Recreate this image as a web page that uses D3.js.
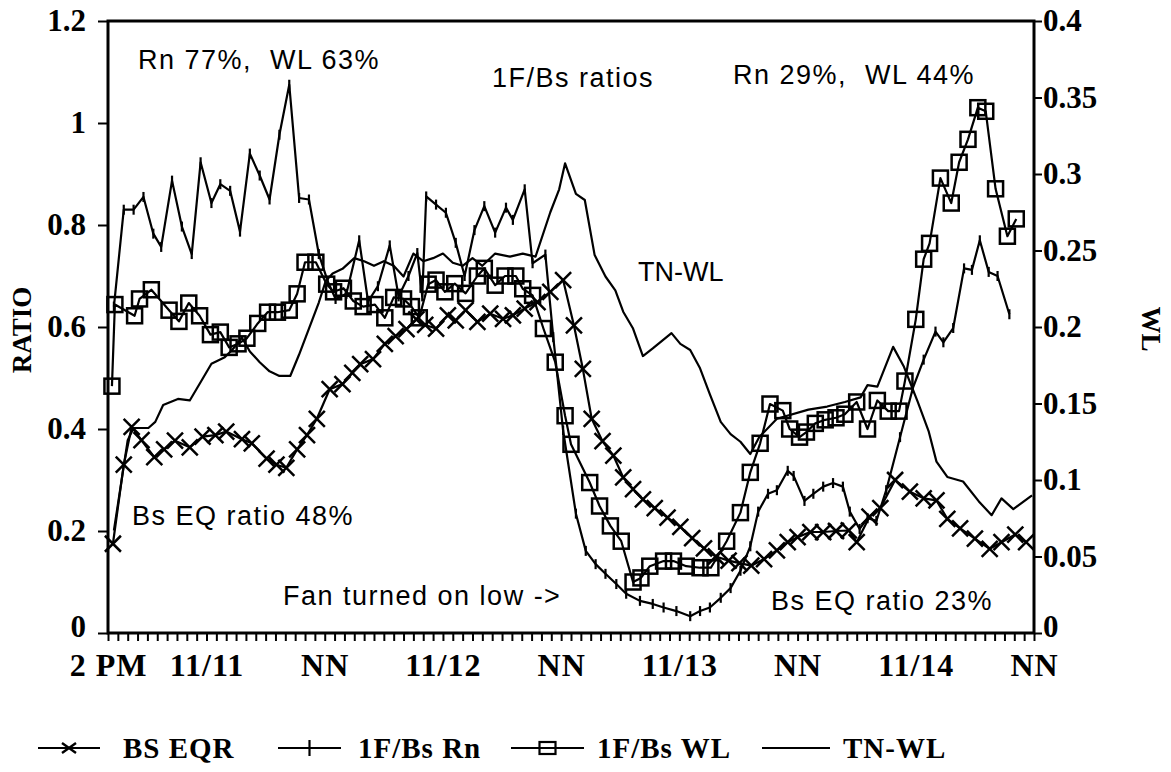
<!DOCTYPE html>
<html>
<head>
<meta charset="utf-8">
<script src="https://cdn.jsdelivr.net/npm/d3@7"></script>
<style>
  body { margin: 0; background: #fff; }
  svg { display: block; }
</style>
</head>
<body>
<div id="chart"></div>
<script>
// time is in hours after 2 PM 11/10
const xLabels = ["2 PM", "11/11", "NN", "11/12", "NN", "11/13", "NN", "11/14", "NN"];
const xLabelHours = [0, 10, 22, 34, 46, 58, 70, 82, 94];
const ratioTicks = [0, 0.2, 0.4, 0.6, 0.8, 1, 1.2];
const wlTicks = [0, 0.05, 0.1, 0.15, 0.2, 0.25, 0.3, 0.35, 0.4];

// BS EQR (ratio, left axis)
const eqrHours = [0.5,1.6,2.4,3.4,4.7,5.7,6.8,8.3,9.6,10.9,12.0,13.6,14.6,16.1,17.1,18.1,19.2,20.2,21.2,22.5,
  23.8,24.8,25.6,26.9,28.1,29.2,30.3,31.3,32.2,33.3,34.5,35.3,36.3,37.5,38.8,40.1,41.1,42.3,43.6,44.9,
  46.2,47.3,48.2,49.1,50.2,51.3,52.3,53.3,54.3,55.5,56.8,58.1,59.3,60.5,61.7,63.0,64.1,65.3,66.6,67.9,
  69.0,70.0,71.3,72.6,73.9,75.2,76.0,77.3,78.4,79.9,81.4,82.8,84.1,85.2,86.5,88.0,89.5,90.7,92.1,93.2];
const eqrValues = [0.175,0.33,0.404,0.378,0.345,0.36,0.377,0.364,0.385,0.388,0.395,0.38,0.372,0.342,0.33,0.324,0.36,0.388,0.42,0.478,
  0.488,0.51,0.527,0.537,0.567,0.582,0.596,0.615,0.604,0.597,0.623,0.613,0.633,0.61,0.626,0.616,0.623,0.636,0.649,0.669,
  0.692,0.603,0.518,0.42,0.376,0.348,0.305,0.282,0.262,0.245,0.226,0.208,0.186,0.166,0.15,0.142,0.137,0.132,0.145,0.162,
  0.178,0.188,0.198,0.198,0.2,0.201,0.178,0.228,0.245,0.3,0.277,0.264,0.26,0.224,0.205,0.185,0.165,0.178,0.193,0.178];

// 1F/Bs Rn (ratio, left axis)
const rnHours = [0.6,1.6,2.6,3.6,4.6,5.4,6.5,7.5,8.5,9.4,10.5,11.4,12.4,13.4,14.4,15.4,16.4,17.4,18.4,19.4,
  20.4,21.4,22.3,23.1,24.2,25.5,26.4,27.4,28.6,29.5,30.5,31.4,31.9,32.3,33.3,34.3,35.3,36.2,37.2,38.2,
  39.3,40.4,41.1,42.3,43.1,44.4,45.2,46.2,47.5,48.5,49.5,50.5,51.6,52.6,54.0,55.3,56.4,57.7,59.1,60.1,
  61.1,62.2,63.2,64.2,65.2,66.0,67.0,67.9,69.0,69.6,70.7,71.6,72.6,73.6,74.6,75.3,76.3,77.1,78.0,79.0,
  80.4,81.7,82.8,84.0,84.8,85.8,86.9,87.7,88.5,89.4,90.3,91.5];
const rnValues = [0.64,0.83,0.83,0.855,0.783,0.757,0.887,0.797,0.743,0.923,0.843,0.88,0.867,0.787,0.94,0.897,0.85,0.977,1.075,0.853,
  0.85,0.743,0.69,0.655,0.665,0.77,0.65,0.68,0.76,0.66,0.70,0.745,0.66,0.856,0.84,0.824,0.765,0.70,0.79,0.837,
  0.785,0.834,0.81,0.87,0.725,0.742,0.58,0.397,0.234,0.161,0.135,0.116,0.096,0.077,0.063,0.057,0.05,0.043,0.033,0.043,
  0.05,0.069,0.088,0.122,0.17,0.238,0.273,0.28,0.318,0.308,0.259,0.273,0.287,0.294,0.287,0.238,0.204,0.225,0.22,0.28,
  0.384,0.48,0.536,0.591,0.57,0.598,0.715,0.712,0.77,0.708,0.70,0.625];

// 1F/Bs WL (ratio, left axis)
const wlHours = [0.4,0.7,2.7,3.2,4.4,6.2,7.2,8.2,9.3,10.4,11.4,12.3,13.2,14.1,15.2,16.2,17.2,18.4,19.2,20.0,
  21.1,22.2,22.9,23.9,24.9,25.9,27.1,28.1,29.0,30.0,30.8,31.6,32.5,33.3,34.2,35.2,36.3,37.5,38.2,39.3,
  40.3,41.4,42.1,43.1,44.2,45.4,46.4,47.0,48.9,49.9,51.0,52.1,53.3,54.1,55.0,56.4,57.4,58.7,60.1,61.2,
  62.8,64.2,65.2,66.2,67.2,68.5,69.2,70.2,70.9,71.8,72.8,73.9,74.8,76.0,77.1,78.1,79.2,80.3,80.9,82.0,
  82.8,83.4,84.5,85.6,86.4,87.3,88.3,89.1,90.1,91.3,92.2];
const wlValues = [0.484,0.644,0.622,0.655,0.673,0.633,0.611,0.647,0.622,0.585,0.59,0.56,0.567,0.578,0.607,0.629,0.629,0.633,0.665,0.727,
  0.727,0.684,0.669,0.676,0.651,0.64,0.644,0.618,0.658,0.655,0.64,0.618,0.684,0.692,0.669,0.685,0.666,0.70,0.715,0.682,
  0.70,0.70,0.675,0.662,0.597,0.531,0.426,0.37,0.295,0.249,0.21,0.18,0.10,0.108,0.131,0.141,0.141,0.131,0.128,0.128,
  0.18,0.236,0.315,0.372,0.449,0.436,0.40,0.384,0.394,0.411,0.418,0.422,0.429,0.453,0.40,0.456,0.435,0.435,0.494,0.615,
  0.733,0.764,0.892,0.843,0.923,0.968,1.03,1.023,0.871,0.778,0.812];

// TN-WL (WL, right axis)
const tnHours = [0.6,2.0,2.6,4.1,4.8,5.6,7.1,8.3,9.5,10.5,11.8,12.6,13.6,14.4,15.4,16.4,17.4,18.5,19.4,20.4,
  21.4,22.1,22.8,23.8,25.0,26.0,27.0,28.0,29.0,30.0,31.0,32.0,33.0,34.0,35.0,36.0,37.0,38.0,39.3,40.8,
  42.1,43.4,44.9,45.8,46.4,47.5,48.4,49.4,50.5,51.5,52.3,53.3,54.3,55.3,57.2,58.1,59.1,60.1,61.1,62.2,
  63.2,64.2,65.2,66.1,67.9,71.1,73.0,74.8,76.4,77.1,78.1,79.7,80.8,82.2,83.3,84.1,85.2,86.8,88.4,89.7,
  90.7,91.9,93.8];
const tnValues = [0.067,0.126,0.134,0.134,0.138,0.149,0.153,0.152,0.165,0.176,0.18,0.185,0.193,0.184,0.177,0.171,0.168,0.168,0.182,0.199,
  0.216,0.23,0.235,0.238,0.245,0.243,0.24,0.243,0.24,0.233,0.248,0.243,0.245,0.248,0.242,0.24,0.245,0.24,0.248,0.246,
  0.248,0.246,0.275,0.29,0.307,0.287,0.283,0.247,0.233,0.224,0.21,0.199,0.181,0.186,0.196,0.189,0.185,0.173,0.156,0.138,
  0.13,0.125,0.117,0.128,0.14,0.146,0.148,0.151,0.154,0.162,0.161,0.187,0.174,0.151,0.132,0.112,0.102,0.099,0.086,0.077,
  0.088,0.081,0.09];

const notes = [
  { text: "Rn 77%,  WL 63%", x: 138, y: 69 },
  { text: "1F/Bs ratios", x: 492, y: 87 },
  { text: "Rn 29%,  WL 44%", x: 733, y: 84 },
  { text: "TN-WL", x: 638, y: 281, spacing: 0 },
  { text: "Bs EQ ratio 48%", x: 132, y: 525 },
  { text: "Fan turned on low ->", x: 283, y: 605 },
  { text: "Bs EQ ratio 23%", x: 771, y: 610 }
];

const width = 1171, height = 772;
const plot = { left: 108, right: 1034, top: 21, bottom: 633 };
const serif = "'Liberation Serif', 'Times New Roman', serif";
const sans = "'Liberation Sans', Arial, sans-serif";

const svg = d3.select("#chart").append("svg")
  .attr("width", width)
  .attr("height", height)
  .style("background", "#fff");

const x = d3.scaleLinear().domain([0, 94]).range([plot.left, plot.right]);
const yRatio = d3.scaleLinear().domain([0, 1.2]).range([plot.bottom, plot.top]);
const yWL = d3.scaleLinear().domain([0, 0.4]).range([plot.bottom, plot.top]);

function styleAxis(g, size) {
  g.select(".domain").remove();
  g.selectAll(".tick line").attr("stroke", "#000").attr("stroke-width", 2);
  g.selectAll("text")
    .attr("fill", "#000")
    .style("font-family", serif)
    .style("font-weight", "bold")
    .style("font-size", size + "px");
}

// lift the "0" labels a little so they clear the time labels
function liftZero(g) {
  g.selectAll(".tick").filter(d => d === 0).select("text").attr("y", -6);
}

// left axis
svg.append("g")
  .attr("transform", "translate(" + plot.left + ",0)")
  .call(d3.axisLeft(yRatio).tickValues(ratioTicks).tickSize(10).tickPadding(12).tickFormat(d3.format("~g")))
  .call(g => styleAxis(g, 31))
  .call(liftZero);

// right axis
svg.append("g")
  .attr("transform", "translate(" + plot.right + ",0)")
  .call(d3.axisRight(yWL).tickValues(wlTicks).tickSize(8).tickPadding(1).tickFormat(d3.format("~g")))
  .call(g => styleAxis(g, 31))
  .call(liftZero);

// hourly ticks on x axis
svg.append("g")
  .attr("transform", "translate(0," + plot.bottom + ")")
  .call(d3.axisBottom(x).tickValues(d3.range(0, 95)).tickSize(8).tickFormat(""))
  .call(g => styleAxis(g, 32));

// x labels
svg.append("g")
  .attr("transform", "translate(0," + plot.bottom + ")")
  .call(d3.axisBottom(x).tickValues(xLabelHours).tickSize(0).tickPadding(20)
    .tickFormat((d, i) => xLabels[i]))
  .call(g => styleAxis(g, 32))
  .call(g => g.selectAll("text").style("letter-spacing", "1px"));

// frame
svg.append("rect")
  .attr("x", plot.left).attr("y", plot.top)
  .attr("width", plot.right - plot.left).attr("height", plot.bottom - plot.top)
  .attr("fill", "none").attr("stroke", "#000").attr("stroke-width", 3);

// axis titles
svg.append("text")
  .attr("transform", "translate(31,330) rotate(-90)")
  .attr("text-anchor", "middle")
  .style("font-family", serif).style("font-weight", "bold").style("font-size", "27px")
  .text("RATIO");

svg.append("text")
  .attr("transform", "translate(1142,329) rotate(90)")
  .attr("text-anchor", "middle")
  .style("font-family", serif).style("font-weight", "bold").style("font-size", "27px")
  .text("WL");

// series
const eqrData = eqrHours.map((h, i) => [h, eqrValues[i]]);
const rnData = rnHours.map((h, i) => [h, rnValues[i]]);
const wlData = wlHours.map((h, i) => [h, wlValues[i]]);
const tnData = tnHours.map((h, i) => [h, tnValues[i]]);

const ratioLine = d3.line().x(d => x(d[0])).y(d => yRatio(d[1]));
const wlLine = d3.line().x(d => x(d[0])).y(d => yWL(d[1]));

const lines = svg.append("g")
  .attr("fill", "none").attr("stroke", "#000").attr("stroke-width", 2.2)
  .attr("stroke-linejoin", "round");

lines.append("path").datum(tnData).attr("d", wlLine);
lines.append("path").datum(rnData).attr("d", ratioLine);
lines.append("path").datum(eqrData).attr("d", ratioLine);
lines.append("path").datum(wlData).attr("d", ratioLine);

const crossPath = s => `M${-s},${-s}L${s},${s}M${-s},${s}L${s},${-s}`;
const tickPath = s => `M0,${-s}L0,${s}`;

svg.append("g").selectAll("path")
  .data(rnData).join("path")
  .attr("transform", d => "translate(" + x(d[0]) + "," + yRatio(d[1]) + ")")
  .attr("d", tickPath(5))
  .attr("stroke", "#000").attr("stroke-width", 2.2);

svg.append("g").selectAll("path")
  .data(eqrData).join("path")
  .attr("transform", d => "translate(" + x(d[0]) + "," + yRatio(d[1]) + ")")
  .attr("d", crossPath(8))
  .attr("stroke", "#000").attr("stroke-width", 2.5);

svg.append("g").selectAll("rect")
  .data(wlData).join("rect")
  .attr("x", d => x(d[0]) - 7.5).attr("y", d => yRatio(d[1]) - 7.5)
  .attr("width", 15).attr("height", 15)
  .attr("fill", "none").attr("stroke", "#000").attr("stroke-width", 2.5);

// notes inside the plot
svg.append("g").selectAll("text")
  .data(notes).join("text")
  .attr("x", d => d.x).attr("y", d => d.y)
  .attr("xml:space", "preserve")
  .style("white-space", "pre")
  .style("font-family", sans).style("font-size", "27px")
  .style("letter-spacing", d => (d.spacing === undefined ? 1.5 : d.spacing) + "px")
  .text(d => d.text);

// legend
const legendItems = [
  { label: "BS EQR", x0: 38, x1: 100, mark: "cross", tx: 123 },
  { label: "1F/Bs Rn", x0: 278, x1: 341, mark: "tick", tx: 358 },
  { label: "1F/Bs WL", x0: 511, x1: 584, mark: "square", tx: 597 },
  { label: "TN-WL", x0: 762, x1: 830, mark: "none", tx: 843 }
];
const ly = 748;
const legend = svg.append("g");
legendItems.forEach(item => {
  legend.append("line")
    .attr("x1", item.x0).attr("x2", item.x1).attr("y1", ly).attr("y2", ly)
    .attr("stroke", "#000").attr("stroke-width", 2.2);
  const cx = (item.x0 + item.x1) / 2;
  if (item.mark === "cross") {
    legend.append("path").attr("transform", "translate(" + cx + "," + ly + ")")
      .attr("d", `M-7,-5L7,5M-7,5L7,-5`).attr("stroke", "#000").attr("stroke-width", 2.4);
  } else if (item.mark === "tick") {
    legend.append("path").attr("transform", "translate(" + cx + "," + ly + ")")
      .attr("d", tickPath(8)).attr("stroke", "#000").attr("stroke-width", 2.2);
  } else if (item.mark === "square") {
    legend.append("rect").attr("x", cx - 8).attr("y", ly - 6).attr("width", 16).attr("height", 12)
      .attr("fill", "none").attr("stroke", "#000").attr("stroke-width", 2.2);
  }
  legend.append("text")
    .attr("x", item.tx).attr("y", ly + 10)
    .style("font-family", serif).style("font-weight", "bold").style("font-size", "29px")
    .style("letter-spacing", "1px")
    .text(item.label);
});
</script>
</body>
</html>
